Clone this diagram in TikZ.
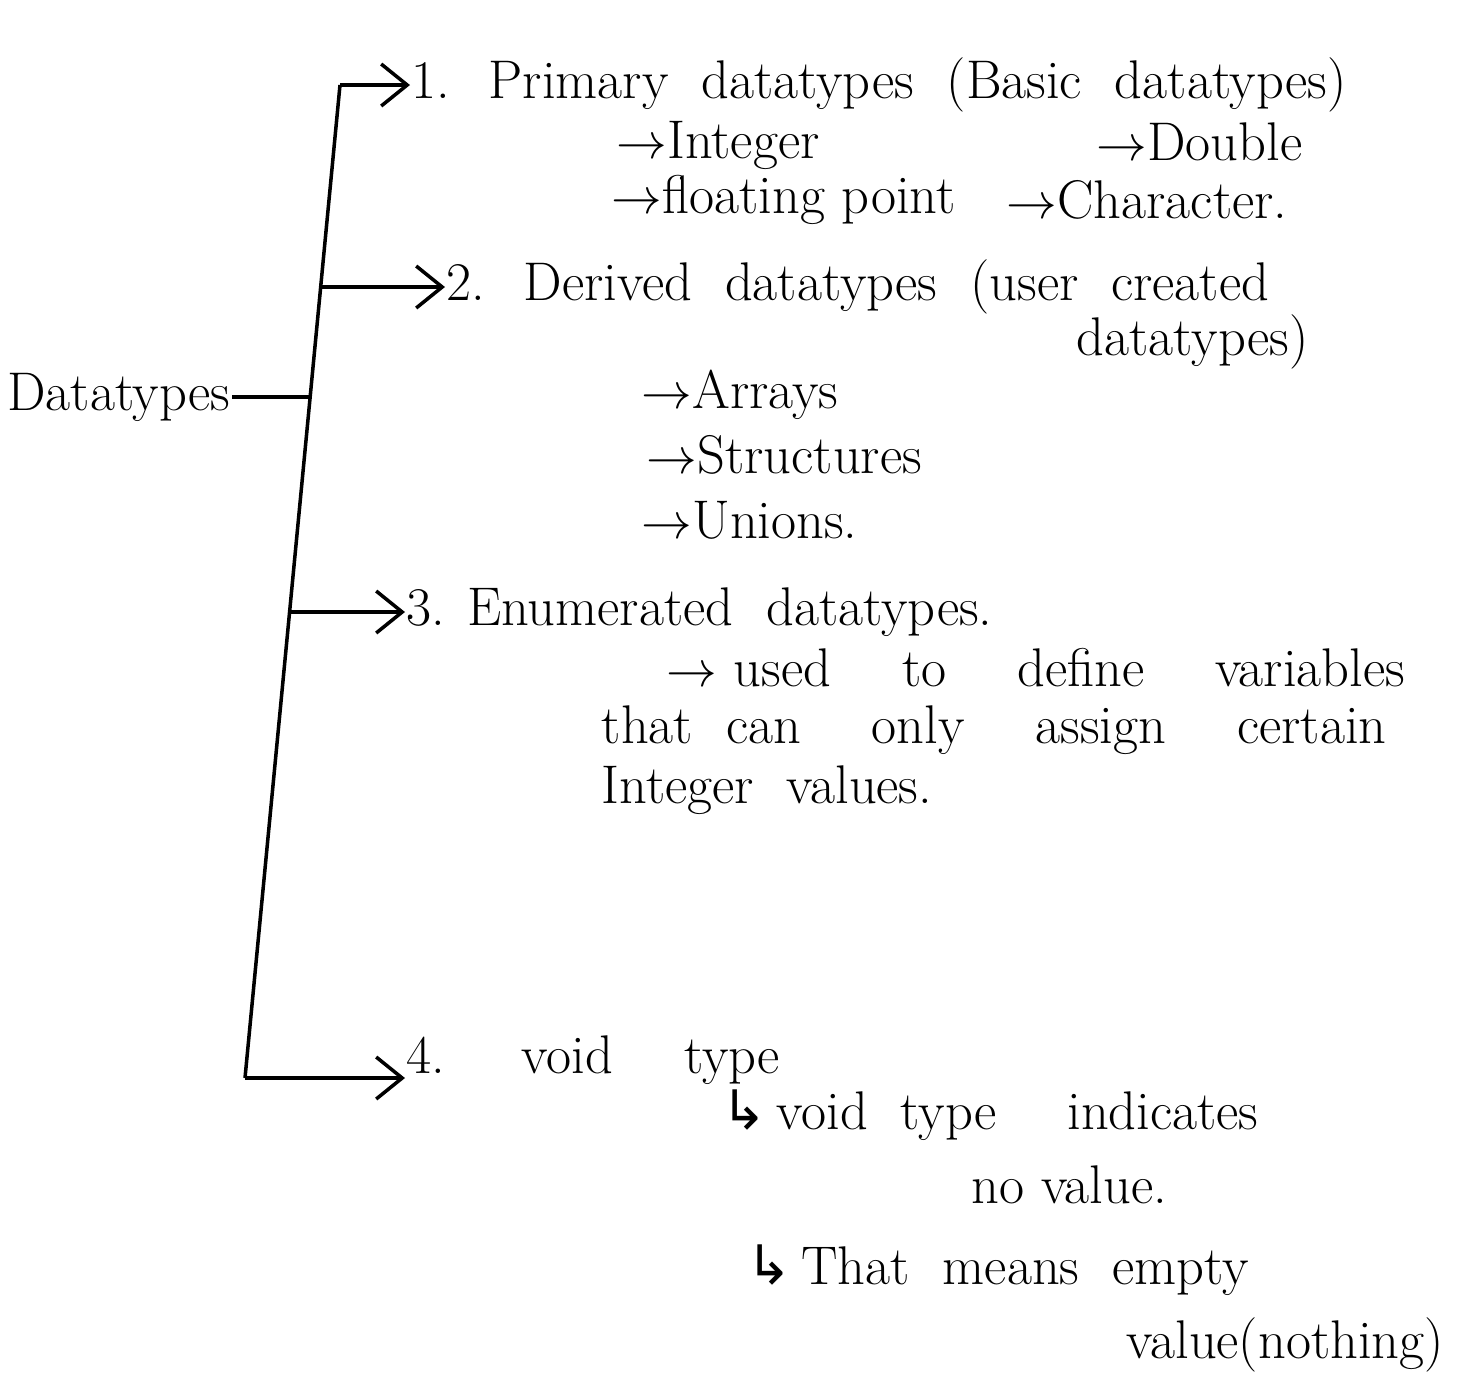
\documentclass[tikz,border=0pt]{standalone}
\usepackage{amsmath,amssymb}
\usepackage{fontspec}
\newfontfamily\symfont{DejaVu Sans}
\usepackage{tikz}
\usetikzlibrary{calc}
\usetikzlibrary{positioning}
\usetikzlibrary{arrows.meta}

\newcommand{\ra}{$\rightarrow$}
\newcommand{\hookra}{{\symfont ↳}\,}

\begin{document}
\begin{tikzpicture}[
        every node/.style={inner sep=0pt, font=\fontsize{15.5}{18}\selectfont},
        item/.style={anchor=west},
        every path/.style={line width=1pt},
        >={Straight Barb[length=2.6mm,width=4.2mm]}]

        \useasboundingbox (0,0) rectangle (14.6,-13.87);

        % spine points
        \coordinate (s1) at (3.40,-0.85);
        \coordinate (s2) at (3.21,-2.87);
        \coordinate (sj) at (3.10,-3.97);
        \coordinate (s3) at (2.90,-6.12);
        \coordinate (s4) at (2.45,-10.78);

        \node[anchor=east] (dt) at (2.32,-3.97) {Datatypes};

        \node[item] (b1) at (4.10,-0.85) {1. \ Primary \ datatypes \ (Basic \ datatypes)};
        \node[item] (int) at (6.15,-1.45) {\ra Integer};
        \node[item] (dbl) at (10.95,-1.42) {\ra Double};
        \node[item] (flt) at (6.10,-2.00) {\ra floating point};
        \node[item] (chr) at (10.05,-2.00) {\ra Character.};

        \node[item] (b2) at (4.45,-2.87) {2. \ Derived \ datatypes \ (user \ created};
        \node[item] (b2b) at (10.75,-3.42) {datatypes)};
        \node[item] (arr) at (6.40,-3.95) {\ra Arrays};
        \node[item] (str) at (6.45,-4.55) {\ra Structures};
        \node[item] (uni) at (6.40,-5.20) {\ra Unions.};

        \node[item] (b3) at (4.05,-6.12) {3. Enumerated \ datatypes.};
        \node[item] (en1) at (6.65,-6.68) {\ra\ used \quad to \quad define \quad variables};
        \node[item] (en2) at (6.00,-7.30) {that \ can \quad only \quad assign \quad certain};
        \node[item] (en3) at (6.00,-7.90) {Integer \ values.};

        \node[item] (b4) at (4.05,-10.60) {4. \quad void \quad type};
        \node[item] (vd1) at (7.20,-11.15) {\hookra void \ type \quad indicates};
        \node[item] (vd2) at (9.70,-11.85) {no value.};
        \node[item] (vd3) at (7.45,-12.70) {\hookra That \ means \ empty};
        \node[item] (vd4) at (11.25,-13.45) {value(nothing)};

        \draw[-] (s1) -- (s4);
        \draw[-] (dt) -- (sj);
        \draw[->] (s1) -- (b1.west);
        \draw[->] (s2) -- (b2.west);
        \draw[->] (s3) -- (b3.west);
        \draw[->] (s4) -- (s4 -| b4.west);

    \end{tikzpicture}
\end{document}
